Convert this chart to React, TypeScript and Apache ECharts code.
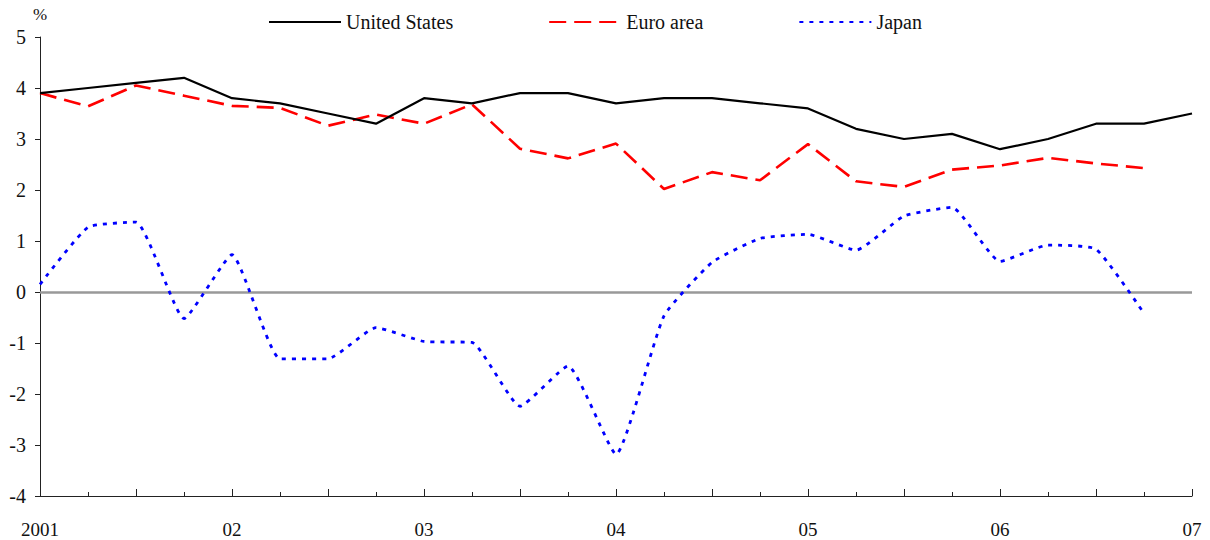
import React, { useEffect, useRef } from "react";
import * as echarts from "echarts";

const yearLabels = ["2001", "02", "03", "04", "05", "06", "07"];
const quarters = [0, 1, 2, 3, 4, 5, 6, 7, 8, 9, 10, 11, 12, 13, 14, 15, 16, 17, 18, 19, 20, 21, 22, 23, 24];
const unitedStates = [3.9, 4.0, 4.1, 4.2, 3.8, 3.7, 3.5, 3.3, 3.8, 3.7, 3.9, 3.9, 3.7, 3.8, 3.8, 3.7, 3.6, 3.2, 3.0, 3.1, 2.8, 3.0, 3.3, 3.3, 3.5];
const euroArea = [3.9, 3.64, 4.05, 3.85, 3.65, 3.61, 3.26, 3.48, 3.3, 3.68, 2.81, 2.62, 2.91, 2.02, 2.35, 2.19, 2.9, 2.17, 2.06, 2.4, 2.48, 2.63, 2.52, 2.43];
const japan = [0.15, 1.27, 1.37, -0.52, 0.73, -1.31, -1.31, -0.7, -0.97, -0.99, -2.24, -1.45, -3.18, -0.47, 0.58, 1.05, 1.13, 0.82, 1.49, 1.66, 0.6, 0.92, 0.84, -0.42];

const FONT = "Liberation Serif";

export default function App() {
  const ref = useRef<HTMLDivElement>(null);
  useEffect(() => {
    if (!ref.current) return;
    const chart = echarts.init(ref.current, undefined, { renderer: "svg" });
    const pair = (arr: number[]) => arr.map((v, i) => [quarters[i], v]);
    chart.setOption({
      animation: false,
      backgroundColor: "#ffffff",
      textStyle: { fontFamily: FONT },
      grid: { left: 40, right: 18, top: 37, bottom: 44, containLabel: false },
      legend: {
        left: 263,
        top: 7,
        itemWidth: 72,
        itemHeight: 14,
        itemGap: 95,
        itemStyle: { opacity: 0 },
        textStyle: { fontFamily: FONT, fontSize: 20, color: "#111" },
        data: ["United States", "Euro area", "Japan"],
      },
      xAxis: {
        type: "value",
        min: 0,
        max: 24,
        interval: 2,
        axisLine: { onZero: false, lineStyle: { color: "#222", width: 1 } },
        axisTick: { show: true, inside: true, length: 7, lineStyle: { color: "#222" } },
        minorTick: { show: true, splitNumber: 2, length: 4, lineStyle: { color: "#222" } },
        splitLine: { show: false },
        axisLabel: {
          margin: 24,
          fontFamily: FONT,
          fontSize: 19,
          color: "#111",
          formatter: (v: number) => (v % 4 === 0 ? yearLabels[v / 4] : ""),
        },
      },
      yAxis: {
        type: "value",
        min: -4,
        max: 5,
        interval: 1,
        name: "%",
        nameLocation: "end",
        nameGap: 14,
        nameTextStyle: { fontFamily: FONT, fontSize: 17, color: "#111", align: "center" },
        axisLine: { show: true, lineStyle: { color: "#222", width: 1 } },
        axisTick: { show: true, inside: false, length: 5, lineStyle: { color: "#222" } },
        splitLine: { show: false },
        axisLabel: { margin: 14, fontFamily: FONT, fontSize: 20, color: "#111" },
      },
      series: [
        {
          name: "United States",
          type: "line",
          symbol: "none",
          data: pair(unitedStates),
          lineStyle: { color: "#000000", width: 2.2, type: "solid" },
          itemStyle: { color: "#000000" },
          z: 4,
          markLine: {
            silent: true,
            symbol: "none",
            label: { show: false },
            lineStyle: { color: "#999999", width: 2.5, type: "solid" },
            data: [{ yAxis: 0 }],
            z: 1,
          },
        },
        {
          name: "Euro area",
          type: "line",
          symbol: "none",
          data: pair(euroArea),
          lineStyle: { color: "#ff0000", width: 2.6, type: [17, 8] },
          itemStyle: { color: "#ff0000" },
          z: 3,
        },
        {
          name: "Japan",
          type: "line",
          symbol: "none",
          smooth: 0.15,
          data: pair(japan),
          lineStyle: { color: "#0000ff", width: 2.8, type: [4, 6] },
          itemStyle: { color: "#0000ff" },
          z: 2,
        },
      ],
    });
    return () => chart.dispose();
  }, []);
  return <div ref={ref} style={{ position: "fixed", left: 0, top: 0, width: 1210, height: 540 }} />;
}
